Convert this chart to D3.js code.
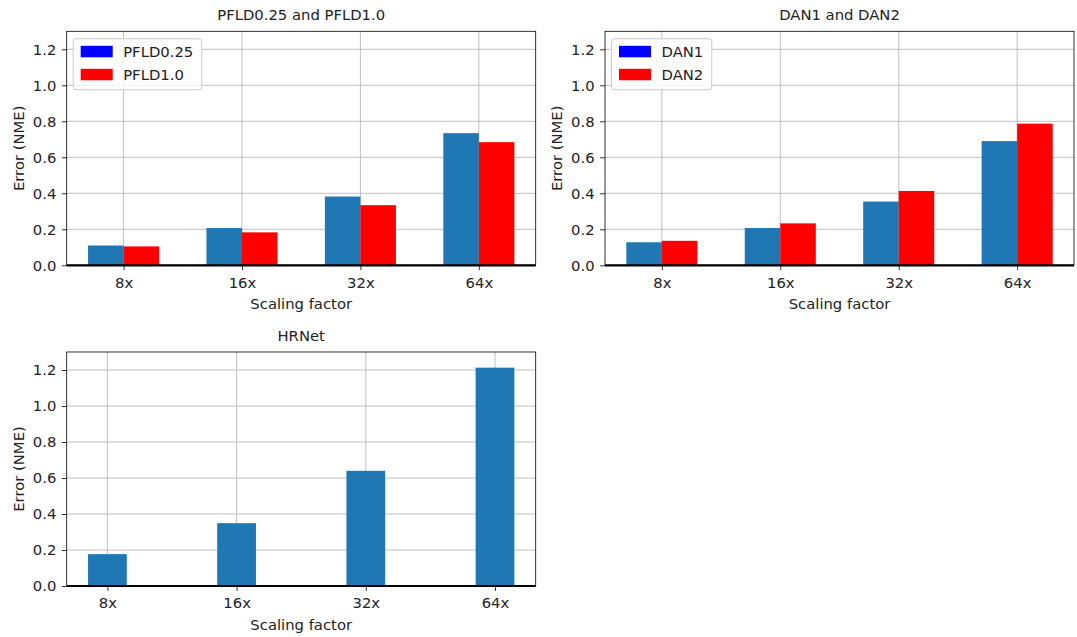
<!DOCTYPE html>
<html>
<head>
<meta charset="utf-8">
<script src="https://cdn.jsdelivr.net/npm/d3@7/dist/d3.min.js"></script>
<style>
  html, body { margin: 0; padding: 0; background: #fff; }
  svg { display: block; }
  text { font-family: "DejaVu Sans", sans-serif; fill: #222; }
</style>
</head>
<body>
<svg id="chart" width="1077" height="637"></svg>
<script>
// Scaling factors shared by every panel
const categories = ["8x", "16x", "32x", "64x"];
const yTicks = [0.0, 0.2, 0.4, 0.6, 0.8, 1.0, 1.2];

// NME error per scaling factor
const pfld025 = [0.110, 0.207, 0.382, 0.734];
const pfld10  = [0.105, 0.183, 0.334, 0.684];
const dan1    = [0.128, 0.207, 0.354, 0.690];
const dan2    = [0.136, 0.233, 0.413, 0.787];
const hrnet   = [0.177, 0.349, 0.640, 1.213];

const panels = [
  { title: "PFLD0.25 and PFLD1.0", left: 66.7, top: 31.3,
    series: [{ name: "PFLD0.25", values: pfld025, fill: "#1f77b4", legend: "#0000ff" },
             { name: "PFLD1.0",  values: pfld10,  fill: "#ff0000", legend: "#ff0000" }],
    legend: true },
  { title: "DAN1 and DAN2", left: 605, top: 31.3,
    series: [{ name: "DAN1", values: dan1, fill: "#1f77b4", legend: "#0000ff" },
             { name: "DAN2", values: dan2, fill: "#ff0000", legend: "#ff0000" }],
    legend: true },
  { title: "HRNet", left: 66.7, top: 352,
    series: [{ name: "HRNet", values: hrnet, fill: "#1f77b4" }],
    legend: false }
];

const W = 469, H = 234;
const barW = 0.3;
const fs = 14.8;
const svg = d3.select("#chart");

panels.forEach(p => {
  const g = svg.append("g").attr("transform", `translate(${p.left},${p.top})`);
  const grouped = p.series.length > 1;
  // bar extents in index units, then 5% margins like matplotlib autoscale
  const lo = grouped ? -barW : -barW / 2;
  const hi = categories.length - 1 + (grouped ? barW : barW / 2);
  const m = (hi - lo) * 0.05;
  const x = d3.scaleLinear().domain([lo - m, hi + m]).range([0, W]);
  const y = d3.scaleLinear().domain([0, 1.3]).range([H, 0]);

  // grid
  g.append("g").selectAll("line.gy").data(yTicks).join("line")
    .attr("x1", 0).attr("x2", W)
    .attr("y1", d => y(d)).attr("y2", d => y(d))
    .attr("stroke", "#b0b0b0").attr("stroke-width", 0.8);
  g.append("g").selectAll("line.gx").data(categories).join("line")
    .attr("x1", (d, i) => x(i)).attr("x2", (d, i) => x(i))
    .attr("y1", 0).attr("y2", H)
    .attr("stroke", "#b0b0b0").attr("stroke-width", 0.8);

  // bars
  p.series.forEach((s, si) => {
    const offset = grouped ? (si === 0 ? -barW : 0) : -barW / 2;
    g.append("g").selectAll("rect").data(s.values).join("rect")
      .attr("x", (d, i) => x(i + offset))
      .attr("width", (d, i) => x(i + offset + barW) - x(i + offset))
      .attr("y", d => y(d))
      .attr("height", d => y(0) - y(d))
      .attr("fill", s.fill);
  });

  // thick baseline at zero
  g.append("line").attr("x1", 0).attr("x2", W)
    .attr("y1", y(0)).attr("y2", y(0))
    .attr("stroke", "#000").attr("stroke-width", 2.2);

  // axes
  const xAxis = d3.axisBottom(x).tickValues(d3.range(categories.length))
    .tickFormat(i => categories[i]).tickSize(4.9).tickPadding(7).tickSizeOuter(0);
  const gx = g.append("g").attr("transform", `translate(0,${H})`).call(xAxis);
  const yAxis = d3.axisLeft(y).tickValues(yTicks).tickFormat(d3.format(".1f"))
    .tickSize(4.9).tickPadding(5.5).tickSizeOuter(0);
  const gy = g.append("g").call(yAxis);
  [gx, gy].forEach(a => {
    a.select(".domain").remove();
    a.selectAll(".tick line").attr("stroke", "#000").attr("stroke-width", 0.8);
    a.selectAll(".tick text").style("font-family", "DejaVu Sans").style("font-size", fs + "px").attr("fill", "#222");
  });

  // frame
  g.append("rect").attr("x", 0).attr("y", 0).attr("width", W).attr("height", H)
    .attr("fill", "none").attr("stroke", "#000").attr("stroke-width", 0.8);

  // labels
  g.append("text").attr("x", W / 2).attr("y", -11.3).attr("text-anchor", "middle")
    .style("font-size", fs + "px").text(p.title);
  g.append("text").attr("x", W / 2).attr("y", H + 44).attr("text-anchor", "middle")
    .style("font-size", fs + "px").text("Scaling factor");
  g.append("text").attr("transform", `translate(${-43},${H / 2}) rotate(-90)`)
    .attr("text-anchor", "middle").style("font-size", fs + "px").text("Error (NME)");

  // legend
  if (p.legend) {
    const lg = g.append("g").attr("transform", "translate(6.5,7.5)");
    const names = p.series.map(s => s.name);
    const tmp = lg.append("text").style("font-size", fs + "px");
    const tw = d3.max(names, n => { tmp.text(n); return tmp.node().getComputedTextLength(); });
    tmp.remove();
    const boxW = 50 + tw + 8.5;
    lg.append("rect").attr("width", boxW).attr("height", 51).attr("rx", 3)
      .attr("fill", "#fff").attr("fill-opacity", 0.8)
      .attr("stroke", "#cccccc").attr("stroke-width", 1);
    p.series.forEach((s, i) => {
      lg.append("rect").attr("x", 7.5).attr("y", 7 + i * 23).attr("width", 32).attr("height", 11.5)
        .attr("fill", s.legend);
      lg.append("text").attr("x", 50).attr("y", 13 + i * 23).attr("dy", "0.36em")
        .style("font-size", fs + "px").text(s.name);
    });
  }
});
</script>
</body>
</html>
